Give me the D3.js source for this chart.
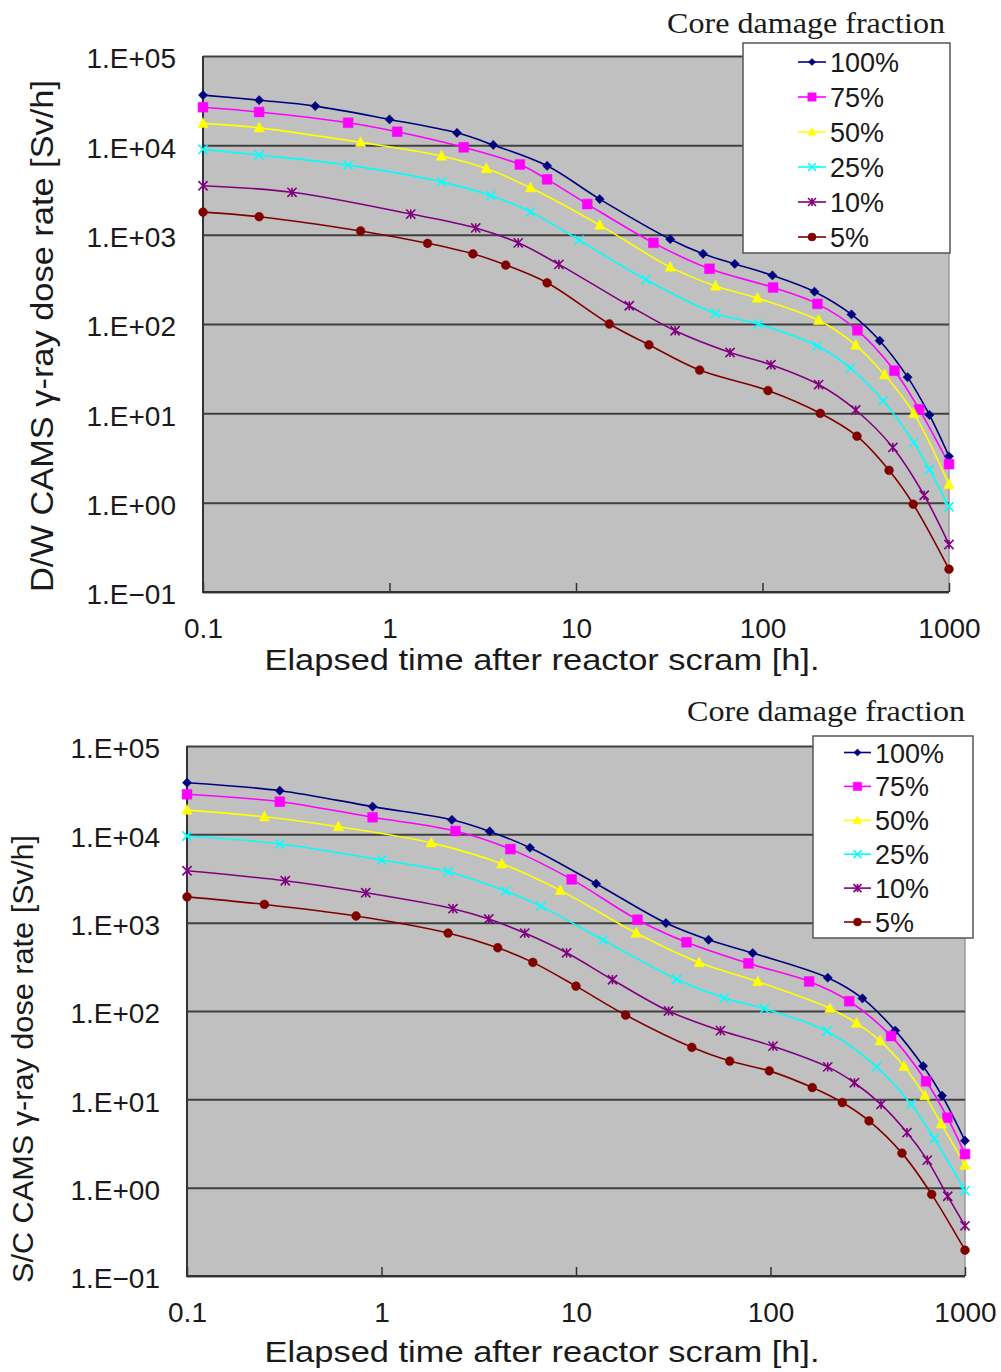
<!DOCTYPE html>
<html>
<head>
<meta charset="utf-8">
<script src="https://cdn.jsdelivr.net/npm/d3@7"></script>
<style>
  body { margin: 0; background: #fff; }
  svg { display: block; }
  text { fill: #1a1a1a; }
  .sans { font-family: "Liberation Sans", Arial, sans-serif; }
  .serif { font-family: "Liberation Serif", "Times New Roman", serif; }
</style>
</head>
<body>
<svg id="chart" width="1001" height="1372"></svg>
<script>
// Core damage fraction series (legend order)
const seriesNames = ["100%", "75%", "50%", "25%", "10%", "5%"];
const seriesColors = ["#000080", "#ff00ff", "#ffff00", "#00ffff", "#800080", "#800000"];
const seriesMarkers = ["diamond", "square", "triangle", "cross", "star", "circle"];

const yTickValues = [1e5, 1e4, 1e3, 1e2, 1e1, 1, 0.1];
const yTickLabels = ["1.E+05", "1.E+04", "1.E+03", "1.E+02", "1.E+01", "1.E+00", "1.E\u221201"];
const xTickValues = [0.1, 1, 10, 100, 1000];
const xTickLabels = ["0.1", "1", "10", "100", "1000"];

// D/W CAMS: [elapsed time h, dose rate Sv/h]
const dw100 = [[0.1, 36500], [0.2, 32000], [0.4, 27500], [1, 19500], [2.3, 13800], [3.6, 10100], [7, 5900], [13.4, 2500], [32, 890], [48, 610], [71, 470], [113, 350], [190, 230], [300, 128], [425, 65], [600, 25.4], [785, 9.6], [1000, 3.3]];
const dw75 = [[0.1, 26700], [0.2, 23600], [0.6, 17900], [1.1, 14200], [2.5, 9500], [5, 6100], [7, 4160], [11.5, 2200], [26, 810], [52, 415], [114, 256], [197, 168], [323, 85], [510, 30], [692, 11.1], [1000, 2.7]];
const dw50 = [[0.1, 17600], [0.2, 15700], [0.7, 10800], [1.9, 7600], [3.3, 5500], [5.7, 3350], [13.4, 1280], [32, 433], [56, 266], [94, 195], [200, 110], [316, 58], [451, 27], [648, 10], [1000, 1.6]];
const dw25 = [[0.1, 9000], [0.2, 7800], [0.6, 6000], [1.9, 3900], [3.5, 2730], [5.7, 1800], [10.4, 870], [23.7, 314], [56, 131], [95, 100], [196, 57], [296, 32], [443, 13.8], [648, 4.7], [785, 2.35], [1000, 0.9]];
const dw10 = [[0.1, 3530], [0.3, 2980], [1.3, 1700], [2.9, 1190], [4.9, 810], [8.1, 465], [19.3, 160], [34, 84], [67, 48], [111, 35], [200, 21], [316, 10.9], [500, 4.15], [736, 1.21], [1000, 0.34]];
const dw5 = [[0.1, 1790], [0.2, 1590], [0.7, 1100], [1.6, 800], [2.8, 610], [4.2, 457], [7, 289], [15.1, 100], [24.6, 58.5], [46, 30.5], [107, 18], [204, 10], [321, 5.55], [477, 2.3], [643, 0.96], [1000, 0.18]];

// S/C CAMS
const sc100 = [[0.1, 38400], [0.3, 31200], [0.9, 20600], [2.3, 14600], [3.6, 10800], [5.8, 7050], [12.7, 2760], [29, 990], [48, 640], [81, 453], [197, 238], [297, 139], [438, 60], [609, 23.8], [762, 11], [1000, 3.4]];
const sc75 = [[0.1, 28400], [0.3, 23400], [0.9, 15600], [2.4, 10900], [4.6, 6800], [9.5, 3090], [20.7, 1080], [37, 600], [77, 346], [158, 216], [254, 129], [417, 52], [631, 16], [812, 6.2], [1000, 2.4]];
const sc50 = [[0.1, 18800], [0.25, 15800], [0.6, 12200], [1.8, 8000], [4.15, 4640], [8.3, 2320], [20.4, 763], [43, 353], [86, 215], [202, 107], [277, 73], [366, 46], [486, 23.6], [622, 11], [755, 5.3], [1000, 1.8]];
const sc25 = [[0.1, 9570], [0.3, 7770], [1, 5120], [2.2, 3770], [4.35, 2280], [6.6, 1540], [13.8, 635], [32.9, 229], [57.8, 140], [93, 106], [195, 59], [351, 23.3], [528, 8.8], [695, 3.6], [1000, 0.92]];
const sc10 = [[0.1, 3870], [0.32, 2980], [0.83, 2180], [2.33, 1440], [3.56, 1100], [5.45, 763], [8.95, 456], [15.4, 226], [29.9, 100], [55.3, 60], [103, 40], [197, 23.3], [270, 15.4], [370, 8.75], [503, 4.2], [640, 2.05], [815, 0.8], [1000, 0.37]];
const sc5 = [[0.1, 1960], [0.25, 1610], [0.74, 1190], [2.2, 763], [3.96, 520], [6, 355], [10, 191], [18, 90], [39.4, 38.8], [61.7, 27.1], [98.6, 21], [164, 13.6], [234, 9.2], [321, 5.7], [474, 2.46], [674, 0.84], [1000, 0.196]];

const svg = d3.select("#chart");

const panels = [
  {
    series: [dw100, dw75, dw50, dw25, dw10, dw5],
    yTitle: "D/W CAMS \u03b3-ray dose rate [Sv/h]",
    box: { left: 203, right: 949, top: 56, bottom: 592 },
    yTitlePos: { x: 53, y: 336, size: 31, len: 512 },
    xTitleY: 670,
    capPos: { x: 667, y: 33 },
    legend: { x: 743, y: 43, w: 207, h: 210, row0: 62, step: 35, lx0: 798, lx1: 826, tx: 830 }
  },
  {
    series: [sc100, sc75, sc50, sc25, sc10, sc5],
    yTitle: "S/C CAMS \u03b3-ray dose rate [Sv/h]",
    box: { left: 187, right: 965, top: 746, bottom: 1276 },
    yTitlePos: { x: 33, y: 1059, size: 29, len: 448 },
    xTitleY: 1362,
    capPos: { x: 687, y: 721 },
    legend: { x: 813, y: 736, w: 160, h: 202, row0: 752.5, step: 33.9, lx0: 844, lx1: 871, tx: 875 }
  }
];

function markerPath(type, r) {
  switch (type) {
    case "diamond": return `M0,${-r}L${r},0L0,${r}L${-r},0Z`;
    case "square": return `M${-r},${-r}H${r}V${r}H${-r}Z`;
    case "triangle": return `M0,${-r * 1.1}L${r},${r * 0.8}L${-r},${r * 0.8}Z`;
    case "cross": return `M${-r},${-r}L${r},${r}M${-r},${r}L${r},${-r}`;
    case "star": return `M${-r},${-r}L${r},${r}M${-r},${r}L${r},${-r}M0,${-r}V${r}`;
    default: return d3.symbol(d3.symbolCircle, Math.PI * r * r)();
  }
}

function styleMarker(sel, i) {
  const open = seriesMarkers[i] === "cross" || seriesMarkers[i] === "star";
  sel.attr("fill", open ? "none" : seriesColors[i])
    .attr("stroke", seriesColors[i])
    .attr("stroke-width", open ? 1.6 : 0.5);
}

const markerSize = { diamond: 4.6, square: 4.9, triangle: 5.2, cross: 4.6, star: 4.6, circle: 4.4 };
const legendMarkerSize = { diamond: 3.6, square: 4.2, triangle: 4.2, cross: 4, star: 4, circle: 4 };

function drawPanel(p) {
  const b = p.box;
  const w = b.right - b.left;
  const h = b.bottom - b.top;

  const x = d3.scaleLog().domain([0.1, 1000]).range([b.left, b.right]);
  const y = d3.scaleLog().domain([0.1, 1e5]).range([b.bottom, b.top]);

  const g = svg.append("g");

  // plot area
  g.append("rect")
    .attr("x", b.left).attr("y", b.top)
    .attr("width", w).attr("height", h)
    .attr("fill", "#c0c0c0");

  // right edge
  g.append("line")
    .attr("x1", b.right).attr("x2", b.right)
    .attr("y1", b.top).attr("y2", b.bottom)
    .attr("stroke", "#9a9a9a").attr("stroke-width", 1.5);

  // horizontal gridlines
  g.append("g")
    .attr("transform", `translate(${b.left},0)`)
    .call(d3.axisLeft(y).tickValues(yTickValues).tickSize(-w).tickFormat(""))
    .call(s => s.select(".domain").remove())
    .call(s => s.selectAll("line").attr("stroke", "#404040").attr("stroke-width", 2));

  // y tick labels
  g.append("g")
    .attr("transform", `translate(${b.left},0)`)
    .call(d3.axisLeft(y).tickValues(yTickValues).tickSize(0).tickPadding(27)
      .tickFormat((d, i) => yTickLabels[i]))
    .call(s => s.select(".domain").remove())
    .call(s => s.selectAll("text")
      .attr("class", "sans").attr("font-size", 28).attr("fill", "#1a1a1a")
      .attr("dy", "0.42em"));

  // x axis with inward ticks
  g.append("g")
    .attr("transform", `translate(0,${b.bottom})`)
    .call(d3.axisBottom(x).tickValues(xTickValues).tickSizeInner(-9).tickSizeOuter(0)
      .tickPadding(26).tickFormat((d, i) => xTickLabels[i]))
    .call(s => s.select(".domain").remove())
    .call(s => s.selectAll("line").attr("stroke", "#333").attr("stroke-width", 1.5))
    .call(s => s.selectAll("text")
      .attr("class", "sans").attr("font-size", 28).attr("fill", "#1a1a1a"));

  // left + bottom axis lines
  g.append("path")
    .attr("d", `M${b.left},${b.top}V${b.bottom}H${b.right}`)
    .attr("fill", "none").attr("stroke", "#333").attr("stroke-width", 2);

  // series
  const line = d3.line()
    .x(d => x(d[0]))
    .y(d => y(d[1]))
    .curve(d3.curveCatmullRom.alpha(0.5));

  p.series.forEach((data, i) => {
    g.append("path")
      .attr("d", line(data))
      .attr("fill", "none")
      .attr("stroke", seriesColors[i])
      .attr("stroke-width", 1.6);
  });

  p.series.forEach((data, i) => {
    g.append("g").selectAll("path")
      .data(data)
      .join("path")
      .attr("transform", d => `translate(${x(d[0])},${y(d[1])})`)
      .attr("d", markerPath(seriesMarkers[i], markerSize[seriesMarkers[i]]))
      .call(styleMarker, i);
  });

  // y title
  svg.append("text")
    .attr("class", "sans")
    .attr("transform", `translate(${p.yTitlePos.x},${p.yTitlePos.y}) rotate(-90)`)
    .attr("text-anchor", "middle")
    .attr("font-size", p.yTitlePos.size)
    .attr("textLength", p.yTitlePos.len)
    .attr("lengthAdjust", "spacingAndGlyphs")
    .text(p.yTitle);

  // x title
  svg.append("text")
    .attr("class", "sans")
    .attr("x", 542).attr("y", p.xTitleY)
    .attr("text-anchor", "middle")
    .attr("font-size", 29)
    .attr("textLength", 555)
    .attr("lengthAdjust", "spacingAndGlyphs")
    .text("Elapsed time after reactor scram [h].");

  // legend caption
  svg.append("text")
    .attr("class", "serif")
    .attr("x", p.capPos.x).attr("y", p.capPos.y)
    .attr("font-size", 30)
    .attr("textLength", 278)
    .attr("lengthAdjust", "spacingAndGlyphs")
    .text("Core damage fraction");

  // legend
  const L = p.legend;
  const lg = svg.append("g");
  lg.append("rect")
    .attr("x", L.x).attr("y", L.y).attr("width", L.w).attr("height", L.h)
    .attr("fill", "#fff").attr("stroke", "#555").attr("stroke-width", 1.5);

  seriesNames.forEach((name, i) => {
    const cy = L.row0 + i * L.step;
    lg.append("line")
      .attr("x1", L.lx0).attr("x2", L.lx1)
      .attr("y1", cy).attr("y2", cy)
      .attr("stroke", seriesColors[i]).attr("stroke-width", 1.6);
    lg.append("path")
      .attr("transform", `translate(${(L.lx0 + L.lx1) / 2},${cy})`)
      .attr("d", markerPath(seriesMarkers[i], legendMarkerSize[seriesMarkers[i]]))
      .call(styleMarker, i);
    lg.append("text")
      .attr("class", "sans")
      .attr("x", L.tx).attr("y", cy + 10)
      .attr("font-size", 27)
      .text(name);
  });
}

panels.forEach(drawPanel);
</script>
</body>
</html>
